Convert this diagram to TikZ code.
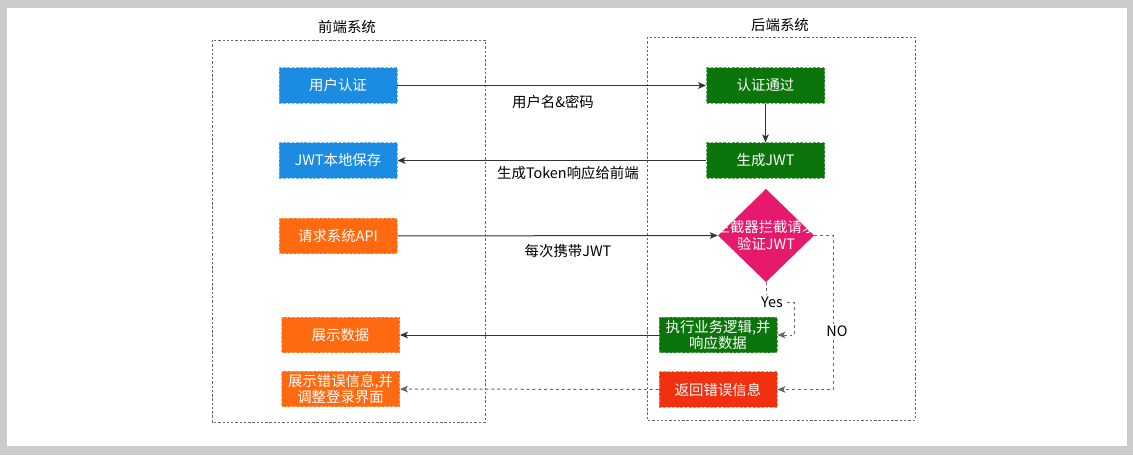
\documentclass[tikz,border=0pt]{standalone}
\usepackage{fontspec}
\setmainfont{Noto Sans CJK SC}
\usetikzlibrary{shapes.geometric,arrows.meta}
\definecolor{scrgray}{HTML}{CBCBCB}
\definecolor{cblue}{HTML}{1C8CE3}
\definecolor{cbluel}{HTML}{6DB8F2}
\definecolor{cgreen}{HTML}{0B740B}
\definecolor{cgreenl}{HTML}{5FAE5F}
\definecolor{corange}{HTML}{FF6A10}
\definecolor{corangel}{HTML}{FFA86E}
\definecolor{cpink}{HTML}{E6196C}
\definecolor{cred}{HTML}{F0300E}
\definecolor{credl}{HTML}{F7866E}
\definecolor{cline}{HTML}{333333}
\definecolor{cdash}{HTML}{666666}
\tikzset{
  txt/.style={font=\fontsize{10.8pt}{12.5pt}\selectfont},
  box/.style={txt, text=white, align=center, inner sep=0pt,
    minimum width=88.5pt, minimum height=26.5pt,
    draw, line width=0.7pt, dash pattern=on 2pt off 1.2pt},
  bluebox/.style={box, fill=cblue, draw=cbluel},
  greenbox/.style={box, fill=cgreen, draw=cgreenl},
  orangebox/.style={box, fill=corange, draw=corangel},
  redbox/.style={box, fill=cred, draw=credl},
  container/.style={draw=cdash, line width=0.6pt, dash pattern=on 1.8pt off 1.4pt},
  lbl/.style={txt, text=black, inner sep=1pt},
  arr/.style={draw=cline, line width=0.75pt, -{Stealth[length=6pt,width=5pt,inset=1.5pt]}},
  darr/.style={draw=cdash, line width=0.75pt, dash pattern=on 2.2pt off 2.2pt,
    -{Stealth[length=6pt,width=5pt,inset=1.5pt]}},
}
\begin{document}
\begin{tikzpicture}[x=0.75pt,y=-0.75pt]
\useasboundingbox (0,0) rectangle (1133,455);
% screenshot frame
\fill[scrgray] (0,0) rectangle (1133,455);
\fill[white] (7,8) rectangle (1127,446);

% containers
\draw[container] (212,40) rectangle (485,422);
\draw[container] (647,37) rectangle (915,420);
\node[lbl] (tfront) at (347,27) {前端系统};
\node[lbl] (tback) at (780,25) {后端系统};

% front-end boxes
\node[bluebox] (ua) at (338,85.5) {用户认证};
\node[bluebox] (jwts) at (338,160.5) {JWT本地保存};
\node[orangebox] (req) at (338,236) {请求系统API};
\node[orangebox] (show) at (340.5,335) {展示数据};
\node[orangebox] (showerr) at (340.5,389) {展示错误信息,并\\调整登录界面};

% back-end boxes
\node[greenbox] (auth) at (765.5,85.5) {认证通过};
\node[greenbox] (gen) at (765.5,160.5) {生成JWT};
\node[diamond, fill=cpink, inner sep=0pt, minimum width=72pt, minimum height=70pt] (dia) at (766,235.5) {};
\node[txt, text=white, align=center] (diatext) at (dia.center) {拦截器拦截请求\\验证JWT};
\node[greenbox] (exec) at (718,335) {执行业务逻辑,并\\响应数据};
\node[redbox] (reterr) at (718,389.5) {返回错误信息};

% connectors
\draw[arr] (ua) -- (auth);
\node[lbl] (l1) at (553,102) {用户名\&密码};
\draw[arr] (auth) -- (gen);
\draw[arr] (gen) -- (jwts);
\node[lbl] (l2) at (568,173) {生成Token响应给前端};
\draw[arr] (req) -- (dia.west);
\node[lbl] (l3) at (568,251) {每次携带JWT};
\draw[darr] (dia.south) -- ++(0,20) -- ++(28,0) |- (exec.east);
\node[lbl, fill=white] (yes) at (772,302) {Yes};
\draw[darr] (dia.east) -- ++(19,0) |- (reterr.east);
\node[lbl, fill=white] (no) at (837,331) {NO};
\draw[arr] (exec) -- (show);
\draw[darr] (reterr) -- (showerr);
\end{tikzpicture}
\end{document}
